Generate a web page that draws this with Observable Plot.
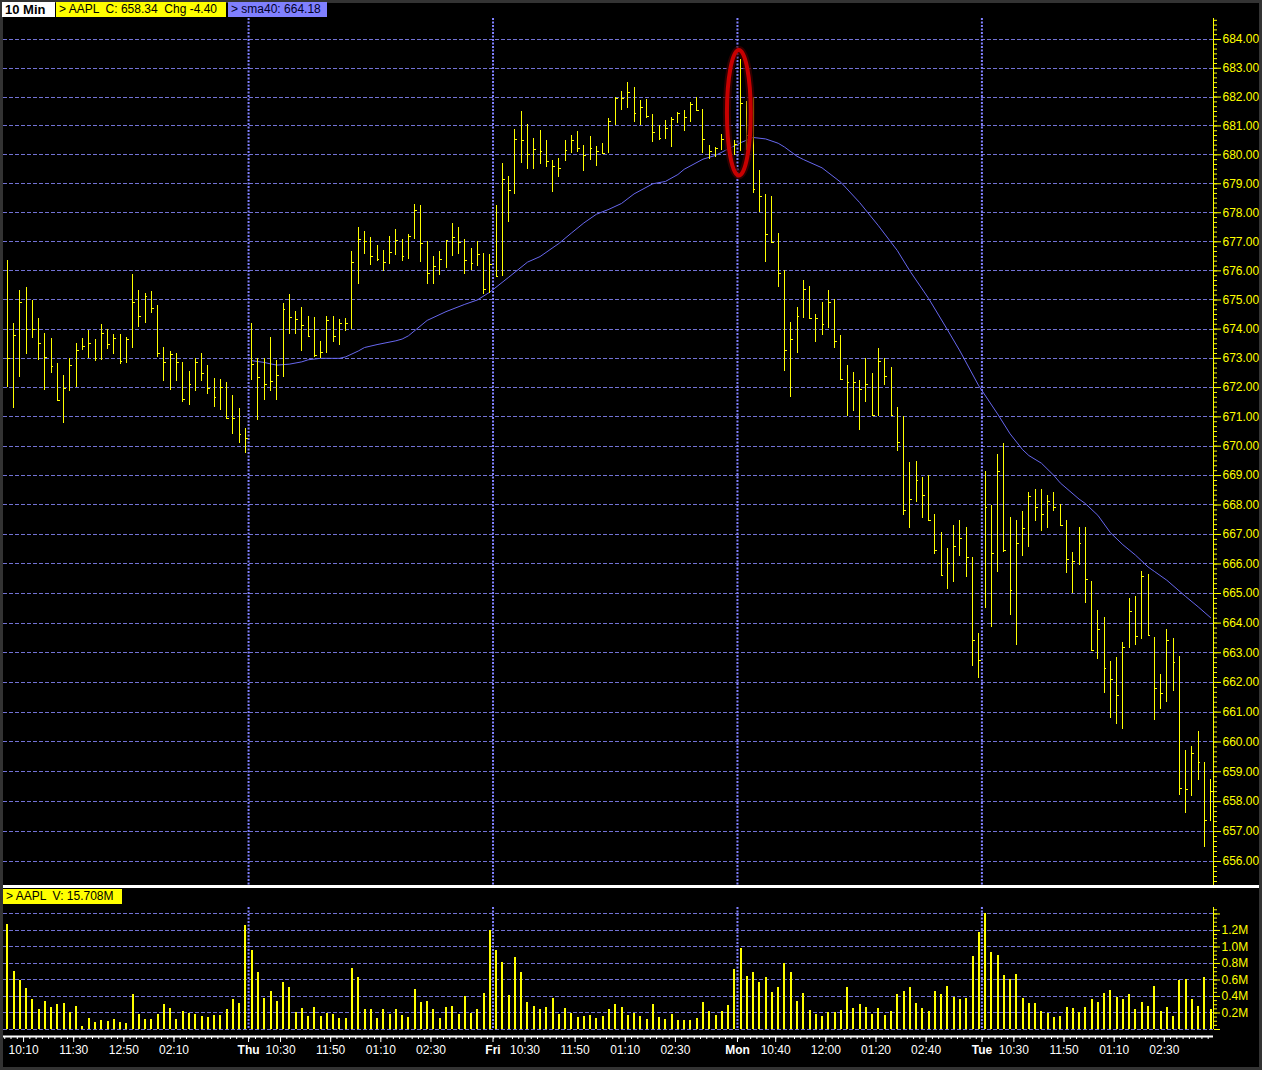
<!DOCTYPE html>
<html>
<head>
<meta charset="utf-8">
<script src="https://cdn.jsdelivr.net/npm/d3@7"></script>
<script src="https://cdn.jsdelivr.net/npm/@observablehq/plot@0.6"></script>
<style>
html,body{margin:0;padding:0;background:#000;}
#chart{position:relative;width:1262px;height:1070px;background:#000;overflow:hidden;font-family:"Liberation Sans",Arial,sans-serif;}
#chart svg{position:absolute;left:0;}
.frame{position:absolute;left:0;top:0;width:1262px;height:1070px;box-sizing:border-box;border:3px solid #333;pointer-events:none;}
.tag{position:absolute;height:15px;line-height:15px;font-size:12px;color:#000;white-space:pre;padding-left:3px;box-sizing:border-box;z-index:3;}
.sepline{position:absolute;left:3px;top:885px;width:1256px;height:3px;background:#fff;z-index:2;}
</style>
</head>
<body>
<div id="chart"></div>
<script>
// ---------------- DATA ----------------
const symbol = "AAPL";
const intervalLabel = "10 Min";
const lastClose = "658.34";
const change = "-4.40";
const smaLabel = "sma40: 664.18";
const dayVolume = "15.708M";
const barsPerDay = 39;
const dayNames = ["Wed", "Thu", "Fri", "Mon", "Tue"];

// 10-minute bars: high / low / close (Wed .. Tue)
const high = [
  // Wed
  676.34,674.18,675.31,675.44,674.98,674.36,673.84,673.67,672.84,672.42,673.01,673.50,673.67,673.95,673.63,674.15,674.00,673.80,673.80,673.70,
  675.88,675.31,675.21,675.28,674.80,673.36,673.22,673.15,672.87,672.56,672.99,673.15,672.77,672.32,672.29,672.18,671.74,671.27,670.60,
  // Thu
  674.20,673.00,673.00,673.70,672.91,674.89,675.20,674.59,674.73,674.43,674.39,673.59,674.45,674.42,674.32,674.35,676.68,677.50,677.36,677.15,
  676.87,676.69,677.18,677.43,677.07,677.26,678.29,678.25,677.02,676.48,676.67,677.05,677.63,677.49,677.08,676.77,677.00,676.59,676.56,
  // Fri
  678.25,679.69,679.25,680.87,681.51,681.06,680.56,680.84,680.49,679.80,679.87,680.48,680.67,680.80,680.32,680.63,680.29,680.40,681.25,682.00,
  682.18,682.49,682.32,681.87,681.90,681.40,681.01,681.19,681.30,681.48,681.55,681.80,681.98,681.58,680.31,680.26,680.70,680.75,680.49,
  // Mon
  683.32,681.83,682.00,679.46,678.63,678.56,677.29,676.00,674.24,674.74,675.67,675.47,674.49,674.92,675.31,675.01,673.77,672.74,672.53,672.25,
  673.00,672.49,673.32,673.01,672.69,671.31,671.00,669.43,669.49,668.94,669.00,667.67,667.08,666.52,667.31,667.48,667.24,666.21,663.64,
  // Tue
  669.14,667.98,669.73,670.10,667.59,667.49,667.77,668.44,668.51,668.54,668.31,668.41,668.00,667.49,666.38,667.25,667.22,665.41,664.44,664.18,
  662.70,662.84,663.34,664.84,664.89,665.74,665.66,663.51,662.27,663.78,663.48,662.86,659.71,659.84,660.34,659.32,658.74
];
const low = [
  // Wed
  672.00,671.29,672.33,673.13,673.68,672.92,671.91,672.47,671.52,670.79,671.88,672.00,673.26,673.00,672.88,672.92,673.31,673.13,672.78,672.81,
  673.33,674.06,674.20,674.54,673.02,672.22,671.91,672.22,671.49,671.39,671.88,672.22,671.75,671.31,671.22,670.91,670.41,670.10,669.75,
  // Thu
  672.25,670.87,671.56,671.86,671.56,672.33,673.82,673.82,673.22,673.73,673.03,673.01,673.15,673.54,673.43,673.92,674.00,675.52,676.56,676.20,
  676.31,675.97,676.23,676.54,676.33,676.40,677.09,676.30,675.52,675.52,675.85,676.08,676.49,676.56,675.89,676.01,676.16,675.18,675.22,
  // Fri
  675.79,675.79,677.68,678.64,679.71,679.51,679.51,679.68,679.57,678.71,679.23,679.78,680.03,680.09,679.44,679.82,679.61,680.03,680.06,681.00,
  681.52,681.62,681.12,681.00,681.27,680.43,680.49,680.53,680.26,681.08,680.80,681.12,681.52,680.03,679.85,679.91,680.15,680.10,679.97,
  // Mon
  680.13,680.15,678.66,678.01,676.29,676.98,675.42,672.56,671.65,673.15,674.36,674.38,673.54,673.78,674.02,673.33,672.25,671.02,671.19,670.54,
  671.49,671.02,671.00,672.06,671.02,669.82,667.66,667.19,668.07,667.54,667.48,666.32,665.57,665.12,665.36,666.26,665.55,662.54,662.13,
  // Tue
  664.49,663.84,665.72,666.38,664.26,663.26,666.26,666.56,667.44,667.09,667.20,667.79,667.30,665.69,665.00,665.96,664.66,663.06,662.78,661.62,
  660.79,660.59,660.42,663.16,663.23,663.46,663.59,660.72,661.10,661.32,661.69,658.22,657.59,658.16,658.72,656.48,657.32
];
const close = [
  // Wed
  673.00,673.79,674.93,674.00,674.00,673.52,673.03,672.73,671.55,671.96,672.76,673.28,673.41,673.52,673.00,673.86,673.48,673.69,672.90,673.66,
  674.90,674.45,675.13,674.72,673.17,672.86,673.14,672.86,671.59,672.12,672.86,672.47,671.98,671.67,672.00,670.93,670.93,670.41,670.27,
  // Thu
  672.80,672.33,672.09,672.20,672.41,674.69,674.39,674.34,674.11,673.75,673.11,673.20,674.31,673.76,674.20,674.18,676.30,677.07,677.00,676.51,
  676.38,676.29,676.63,677.03,676.48,677.18,678.08,676.93,675.90,676.15,676.38,677.03,677.14,676.98,676.34,676.24,676.56,675.36,676.23,
  // Fri
  675.80,679.14,678.77,680.52,680.48,680.01,680.17,680.11,679.77,679.59,679.53,680.15,680.49,680.22,679.98,680.21,680.11,680.06,681.15,681.94,
  681.94,682.15,681.44,681.64,681.31,680.76,680.57,680.90,681.23,681.44,681.29,681.75,681.55,680.53,680.10,680.23,680.53,680.40,680.34,
  // Mon
  681.77,680.67,678.80,678.57,677.26,676.99,675.90,673.28,673.66,674.43,675.36,674.38,674.38,674.17,674.90,673.56,672.28,672.17,672.17,671.93,
  672.10,671.04,672.90,672.38,671.06,670.14,667.82,668.20,668.83,668.33,667.48,666.44,665.61,666.00,666.58,666.87,666.21,663.41,662.75,
  // Tue
  667.90,666.34,669.14,666.47,665.10,666.70,667.20,668.30,667.90,667.69,668.11,667.93,667.31,666.14,666.10,666.69,665.48,663.08,663.78,662.48,
  662.11,661.57,663.17,664.40,663.54,665.58,663.59,661.81,661.64,663.40,662.66,658.43,658.40,659.61,659.31,657.37,658.34
];

// volume per bar, millions
const volume = [
  // Wed
  1.272,0.708,0.588,0.492,0.360,0.240,0.336,0.264,0.300,0.312,0.200,0.276,0.036,0.132,0.084,0.108,0.096,0.120,0.084,0.072,
  0.420,0.180,0.120,0.120,0.180,0.300,0.252,0.120,0.216,0.192,0.180,0.156,0.144,0.168,0.168,0.240,0.360,0.312,1.260,
  // Thu
  0.960,0.696,0.372,0.456,0.336,0.564,0.504,0.204,0.252,0.156,0.264,0.156,0.192,0.180,0.132,0.132,0.744,0.636,0.240,0.240,
  0.132,0.240,0.180,0.240,0.168,0.144,0.480,0.324,0.336,0.240,0.132,0.264,0.276,0.180,0.396,0.192,0.240,0.432,1.200,
  // Fri
  0.960,0.816,0.408,0.876,0.696,0.324,0.276,0.240,0.264,0.372,0.180,0.252,0.192,0.144,0.156,0.168,0.132,0.156,0.240,0.300,
  0.264,0.168,0.192,0.156,0.120,0.300,0.144,0.120,0.180,0.108,0.108,0.108,0.132,0.324,0.216,0.168,0.216,0.288,0.732,
  // Mon
  0.984,0.648,0.696,0.564,0.636,0.444,0.504,0.804,0.696,0.336,0.432,0.228,0.180,0.156,0.204,0.204,0.228,0.504,0.252,0.300,
  0.264,0.180,0.252,0.168,0.216,0.420,0.456,0.504,0.312,0.252,0.216,0.456,0.420,0.516,0.384,0.360,0.372,0.888,1.176,
  // Tue
  1.404,0.936,0.900,0.660,0.600,0.672,0.372,0.312,0.312,0.216,0.192,0.144,0.156,0.264,0.252,0.204,0.264,0.360,0.324,0.432,
  0.468,0.384,0.360,0.420,0.240,0.324,0.276,0.516,0.216,0.264,0.156,0.588,0.600,0.360,0.276,0.636,0.240
];

// 40-bar simple moving average (bar number, value)
const smaBar = [39,41,42,43,45,47,48,50,53,54,56,57,59,62,63,64,67,70,73,75,77,80,83,85,88,90,92,94,96,98,100,103,105,107,108,111,113,115,117,119,121,123,124,126,127,130,133,136,139,142,144,147,150,152,155,158,160,162,163,165,167,168,171,172,174,176,178,180,182,183,185,188,190,192];
const smaValue = [672.92,672.86,672.81,672.77,672.80,672.88,672.95,673.00,673.00,673.05,673.25,673.37,673.47,673.60,673.66,673.77,674.30,674.60,674.85,675.00,675.27,675.78,676.30,676.49,676.94,677.30,677.65,677.95,678.12,678.32,678.65,679.00,679.08,679.32,679.50,679.85,679.98,680.20,680.42,680.60,680.55,680.40,680.27,679.95,679.84,679.55,679.05,678.35,677.55,676.70,676.00,675.05,673.98,673.25,672.06,671.10,670.42,669.88,669.68,669.42,669.00,668.75,668.20,668.05,667.65,667.06,666.65,666.30,665.90,665.75,665.45,664.90,664.55,664.18];

// axis tick values
const priceTicks = [656,657,658,659,660,661,662,663,664,665,666,667,668,669,670,671,672,673,674,675,676,677,678,679,680,681,682,683,684];
const volumeTicks = [0,0.2,0.4,0.6,0.8,1.0,1.2,1.4];
const volumeLabelTicks = [0.2,0.4,0.6,0.8,1.0,1.2];
const timeTickLabels = [
  ["10:10","11:30","12:50","02:10"],
  ["10:30","11:50","01:10","02:30"],
  ["10:30","11:50","01:10","02:30"],
  ["10:40","12:00","01:20","02:40"],
  ["10:30","11:50","01:10","02:30"]
];
// annotation: red ellipse around the Monday opening spike
const note = {fromBar: 114.9, toBar: 118.7, high: 683.62, low: 679.27};

// ---------------- BUILD ----------------
const yellow = "#ffff00";
const gridColor = "#7272d4";
const sepColor = "#8080ff";
const smaColor = "#6767ee";
const font = "'Liberation Sans', Arial, sans-serif";

const nBars = high.length;
const bars = high.map((h, i) => ({i, high: h, low: low[i], close: close[i]}));
const volBars = volume.map((v, i) => ({i, v}));
const sma = smaBar.map((b, k) => ({i: b, v: smaValue[k]}));
const dayBreaks = dayNames.slice(1).map((d, k) => (k + 1) * barsPerDay - 0.5);
const dayLabelOf = new Map(dayBreaks.map((b, k) => [b, dayNames[k + 1]]));

// bar number from end-time label (first bar ends 9:40)
function barOfLabel(day, s) {
  let [h, m] = s.split(":").map(Number);
  if (h < 9) h += 12;
  return day * barsPerDay + (h * 60 + m - (9 * 60 + 40)) / 10;
}
const timeTicks = [];
timeTickLabels.forEach((labels, d) => labels.forEach(s => timeTicks.push({b: barOfLabel(d, s), s})));
const timeLabelOf = new Map(timeTicks.map(t => [t.b, t.s]));

const xDomain = [-0.6, nBars - 1 + 0.45];
const yDomain = [655.2, 684.73];
const vDomain = [0, 1.478];

const priceMinor = d3.range(Math.ceil(yDomain[0] * 6), Math.floor(yDomain[1] * 6) + 1).map(k => k / 6);
const volMinor = d3.range(0, Math.floor(vDomain[1] * 20) + 1).map(k => k / 20);

const chart = document.getElementById("chart");

const price = Plot.plot({
  width: 1262, height: 885,
  marginLeft: 3, marginRight: 49, marginTop: 18, marginBottom: 0,
  style: {background: "transparent", fontFamily: font, fontSize: "12px", overflow: "visible"},
  x: {domain: xDomain, axis: null},
  y: {type: "log", domain: yDomain, axis: null, label: null},
  marks: [
    Plot.ruleY(priceTicks, {stroke: gridColor, strokeWidth: 1, strokeDasharray: "4,2", shapeRendering: "crispEdges"}),
    Plot.ruleX(dayBreaks, {stroke: sepColor, strokeWidth: 2, strokeDasharray: "2,1.5"}),
    Plot.line(sma, {x: "i", y: "v", stroke: smaColor, strokeWidth: 1}),
    Plot.ruleX(bars, {x: "i", y1: "low", y2: "high", stroke: yellow, strokeWidth: 1, shapeRendering: "crispEdges"}),
    Plot.ruleY(bars, {y: "close", x1: "i", x2: d => d.i + 0.45, stroke: yellow, strokeWidth: 1, shapeRendering: "crispEdges"}),
    Plot.ruleX([xDomain[1]], {stroke: yellow, strokeWidth: 1, shapeRendering: "crispEdges"}),
    Plot.axisY({anchor: "right", ticks: priceMinor, tickSize: 3, tickFormat: () => "", stroke: yellow, label: null}),
    Plot.axisY({anchor: "right", ticks: priceTicks, tickSize: 7, tickFormat: () => "", stroke: yellow, label: null}),
    Plot.text(priceTicks, {y: d => d, frameAnchor: "right", dx: 9, textAnchor: "start",
      text: d => d.toFixed(2), fill: yellow, fontSize: 12}),
    (index, scales) => {
      const g = d3.create("svg:g");
      const x1 = scales.x(note.fromBar), x2 = scales.x(note.toBar);
      const y1 = scales.y(note.high), y2 = scales.y(note.low);
      const e = (stroke, w, op) => g.append("ellipse")
        .attr("cx", (x1 + x2) / 2).attr("cy", (y1 + y2) / 2)
        .attr("rx", (x2 - x1) / 2).attr("ry", (y2 - y1) / 2)
        .attr("fill", "none").attr("stroke", stroke).attr("stroke-width", w).attr("opacity", op);
      e("#400000", 8, 0.7);
      e("#c80000", 4, 1);
      return g.node();
    }
  ]
});
price.style.top = "0px";
chart.appendChild(price);

const vol = Plot.plot({
  width: 1262, height: 185,
  marginLeft: 3, marginRight: 49, marginTop: 22, marginBottom: 41,
  style: {background: "transparent", fontFamily: font, fontSize: "12px", overflow: "visible"},
  x: {domain: xDomain, axis: null},
  y: {domain: vDomain, axis: null, label: null},
  marks: [
    Plot.ruleY(volumeTicks, {stroke: gridColor, strokeWidth: 1, strokeDasharray: "4,2", shapeRendering: "crispEdges"}),
    Plot.ruleX(dayBreaks, {stroke: sepColor, strokeWidth: 2, strokeDasharray: "2,1.5"}),
    Plot.ruleX(volBars, {x: "i", y: "v", stroke: yellow, strokeWidth: 2, shapeRendering: "crispEdges"}),
    Plot.ruleX([xDomain[1]], {stroke: yellow, strokeWidth: 1, shapeRendering: "crispEdges"}),
    Plot.axisY({anchor: "right", ticks: volMinor, tickSize: 3, tickFormat: () => "", stroke: yellow, label: null}),
    Plot.axisY({anchor: "right", ticks: volumeTicks, tickSize: 6, tickFormat: () => "", stroke: yellow, label: null}),
    Plot.text(volumeLabelTicks, {y: d => d, frameAnchor: "right", dx: 8, textAnchor: "start",
      text: d => d.toFixed(1) + "M", fill: yellow, fontSize: 12}),
    // time axis
    Plot.ruleY([0], {dy: 7, stroke: "#ffffff", strokeWidth: 2}),
    Plot.axisX({anchor: "bottom", ticks: d3.range(nBars), tickSize: 3, dy: 7, dx: -2.5, tickFormat: () => "", stroke: "#fff", label: null}),
    Plot.axisX({anchor: "bottom", ticks: timeTicks.map(t => t.b), tickSize: 6, tickPadding: 3, dy: 7, dx: -2.5,
      tickFormat: b => timeLabelOf.get(b), stroke: "#fff", fill: "#fff", fontSize: 12, label: null}),
    Plot.axisX({anchor: "bottom", ticks: dayBreaks, tickSize: 6, tickPadding: 3, dy: 7,
      tickFormat: b => dayLabelOf.get(b), stroke: "#fff", fill: "#fff", fontSize: 12, fontWeight: "bold", label: null})
  ]
});
vol.style.top = "885px";
chart.appendChild(vol);

// frame, separator and header tags
function addDiv(cls, css, text) {
  const d = document.createElement("div");
  d.className = cls;
  Object.assign(d.style, css);
  if (text != null) d.textContent = text;
  chart.appendChild(d);
  return d;
}
addDiv("frame", {});
addDiv("sepline", {});
addDiv("tag", {left: "2px", top: "2px", width: "53px", background: "#ffffff", fontWeight: "bold", fontSize: "13px"}, intervalLabel);
addDiv("tag", {left: "56px", top: "2px", width: "170px", background: yellow}, `> ${symbol}  C: ${lastClose}  Chg ${change}`);
addDiv("tag", {left: "228px", top: "2px", width: "99px", background: "#8080ff", color: "#000028"}, `> ${smaLabel}`);
addDiv("tag", {left: "3px", top: "889px", width: "119px", background: yellow}, `> ${symbol}  V: ${dayVolume}`);
</script>
</body>
</html>
